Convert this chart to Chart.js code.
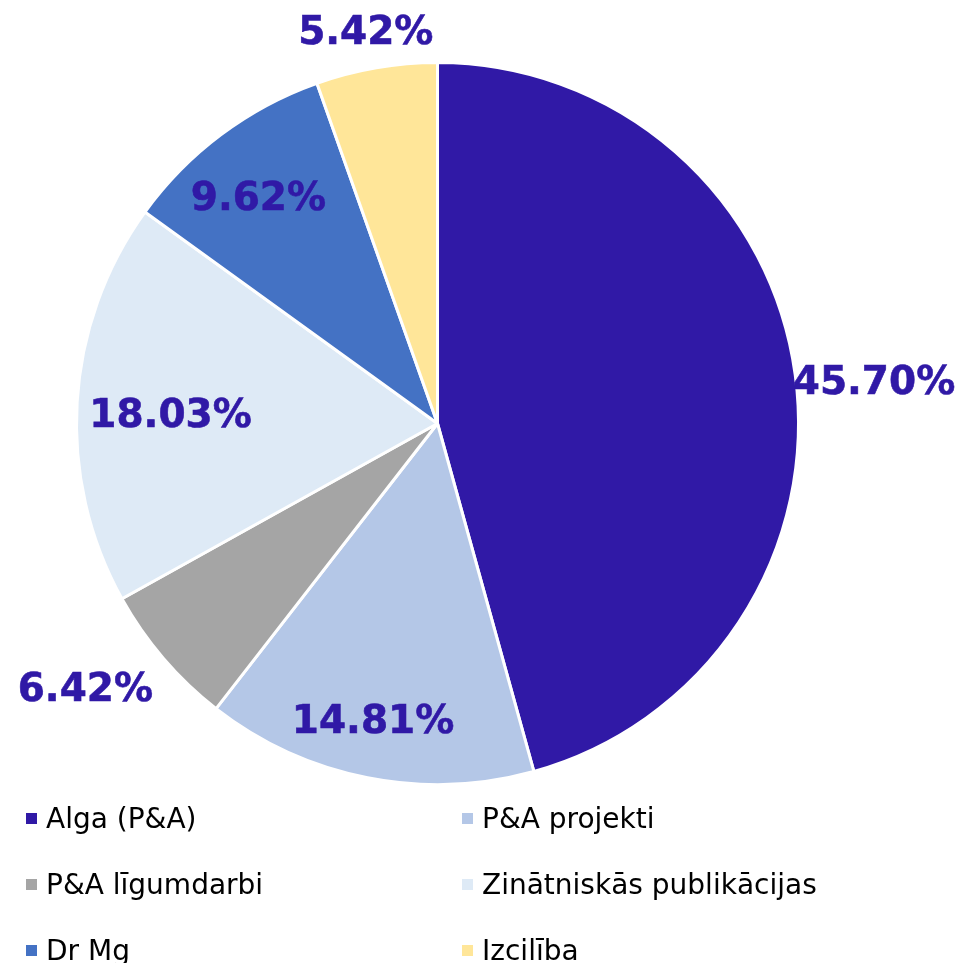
<!DOCTYPE html>
<html>
<head>
<meta charset="utf-8">
<script src="https://cdn.jsdelivr.net/npm/chart.js@4.4.1/dist/chart.umd.min.js"></script>
<style>
  html, body { margin: 0; padding: 0; background: #ffffff; }
  #wrap { position: relative; width: 959px; height: 963px; overflow: hidden; }
  #c { position: absolute; left: 0; top: 0; }
  #legend { position: absolute; left: 26px; top: 785px; display: grid;
            grid-template-columns: 436px 436px; grid-auto-rows: 66px; }
  .item { display: flex; align-items: center; font-family: "DejaVu Sans", Verdana, sans-serif;
          font-size: 28px; color: #000; white-space: nowrap; }
  .sw { width: 11px; height: 11px; margin-right: 9px; flex: none; }
</style>
</head>
<body>
<div id="wrap">
  <canvas id="c" width="959" height="963"></canvas>
  <div id="legend"></div>
</div>
<script>
const categories = ['Alga (P&A)', 'P&A projekti', 'P&A līgumdarbi', 'Zinātniskās publikācijas', 'Dr Mg', 'Izcilība'];
const shares = [45.70, 14.81, 6.42, 18.03, 9.62, 5.42];
const sliceColors = ['#3019A6', '#B4C7E7', '#A5A5A5', '#DEEAF6', '#4472C4', '#FFE699'];

// label placement: radial factor and small angular shift (degrees, clockwise)
const labelRadius = [1.215, 0.84, 1.22, 0.74, 0.80, 1.105];
const labelShift = [2.1, 1.1, 3.7, -1.3, -1.5, -0.6];
const labelColor = '#3019A6';
const labelBaselineNudge = 3;

const labelPlugin = {
  id: 'sliceLabels',
  afterDatasetsDraw(chart) {
    const ctx = chart.ctx;
    const meta = chart.getDatasetMeta(0);
    ctx.save();
    ctx.font = 'bold 39px "DejaVu Sans", Verdana, sans-serif';
    ctx.fillStyle = labelColor;
    ctx.strokeStyle = labelColor;
    ctx.lineWidth = 0.6;
    ctx.textAlign = 'center';
    ctx.textBaseline = 'middle';
    meta.data.forEach((arc, i) => {
      const p = arc.getProps(['x', 'y', 'startAngle', 'endAngle', 'outerRadius'], true);
      const mid = (p.startAngle + p.endAngle) / 2 + labelShift[i] * Math.PI / 180;
      const r = p.outerRadius * labelRadius[i];
      const x = p.x + Math.cos(mid) * r;
      const y = p.y + Math.sin(mid) * r + labelBaselineNudge;
      const txt = shares[i].toFixed(2) + '%';
      ctx.fillText(txt, x, y);
      ctx.strokeText(txt, x, y);
    });
    ctx.restore();
  }
};

new Chart(document.getElementById('c'), {
  type: 'pie',
  data: {
    labels: categories,
    datasets: [{
      data: shares,
      backgroundColor: sliceColors,
      borderColor: '#ffffff',
      borderWidth: 3
    }]
  },
  options: {
    responsive: false,
    devicePixelRatio: 1,
    animation: false,
    layout: { padding: { top: 61, left: 75, right: 159, bottom: 177 } },
    plugins: { legend: { display: false }, tooltip: { enabled: false } }
  },
  plugins: [labelPlugin]
});

const legendEl = document.getElementById('legend');
categories.forEach((name, i) => {
  const item = document.createElement('div');
  item.className = 'item';
  const sw = document.createElement('span');
  sw.className = 'sw';
  sw.style.background = sliceColors[i];
  const tx = document.createElement('span');
  tx.textContent = name;
  item.appendChild(sw);
  item.appendChild(tx);
  legendEl.appendChild(item);
});
</script>
</body>
</html>
